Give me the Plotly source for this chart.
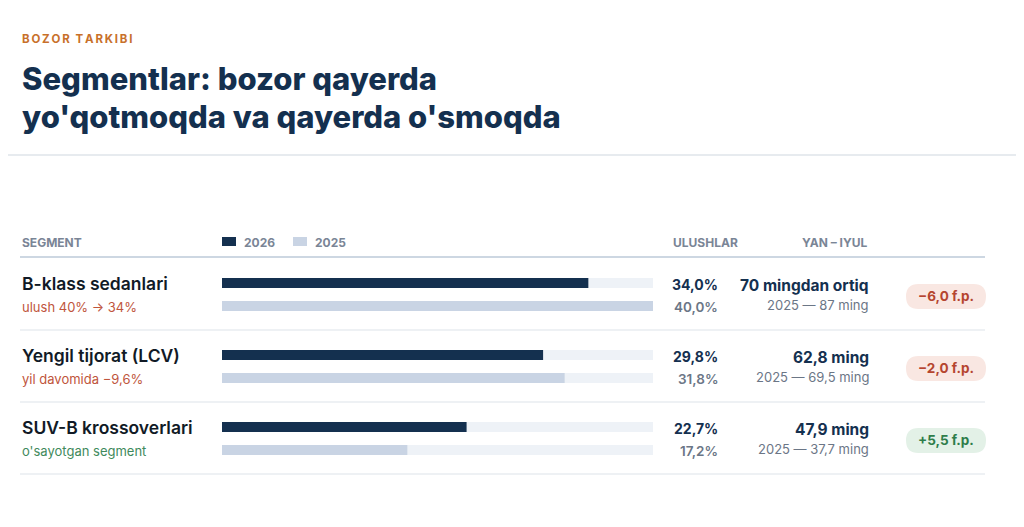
import plotly.graph_objects as go

segments = ["B-klass sedanlari", "Yengil tijorat (LCV)", "SUV-B krossoverlari"]
notes = ["ulush 40% → 34%", "yil davomida −9,6%", "o'sayotgan segment"]
share_2026 = [34.0, 29.8, 22.7]
share_2025 = [40.0, 31.8, 17.2]
vol_2026 = ["70 mingdan ortiq", "62,8 ming", "47,9 ming"]
vol_2025 = ["2025 — 87 ming", "2025 — 69,5 ming", "2025 — 37,7 ming"]
delta = ["−6,0 f.p.", "−2,0 f.p.", "+5,5 f.p."]
SCALE_MAX = 40

W, H = 1024, 527
OFF = 8  # page body margin
NAVY = "#14304f"
LIGHT = "#c9d4e4"
TRACK = "#eef2f7"
RED = "#c0553c"
GREEN = "#3f8a5c"
GREY = "#6b7686"

def px(x): return (x - OFF) / W
def py(y): return 1 - (y - OFF) / H

ROW0, STEP = 283, 72
y26 = [ROW0 + STEP * i for i in range(3)]
y25 = [y + 23 for y in y26]

fig = go.Figure()
for ys in (y26, y25):
    fig.add_trace(go.Bar(x=[SCALE_MAX] * 3, y=[y - OFF for y in ys], orientation="h", width=10,
                         marker=dict(color=TRACK, line_width=0), hoverinfo="skip"))
fig.add_trace(go.Bar(x=share_2026, y=[y - OFF for y in y26], orientation="h", width=10,
                     marker=dict(color=NAVY, line_width=0), hoverinfo="skip"))
fig.add_trace(go.Bar(x=share_2025, y=[y - OFF for y in y25], orientation="h", width=10,
                     marker=dict(color=LIGHT, line_width=0), hoverinfo="skip"))

ann = []
def T(x, y, text, size, color, bold=False, anchor="left", font="Inter", weight=None):
    ann.append(dict(x=px(x), y=py(y), xref="paper", yref="paper", text=text,
                    showarrow=False, xanchor=anchor, yanchor="middle",
                    font=dict(size=size, color=color, family=font,
                              weight=weight if weight else (700 if bold else 400))))

T(20, 39, "B\u2009O\u2009Z\u2009O\u2009R\u2002T\u2009A\u2009R\u2009K\u2009I\u2009B\u2009I", 11.5, "#c8702a", weight=700)
T(20, 78, "Segmentlar: bozor qayerda", 31, NAVY, weight=800)
T(20, 116, "yo'qotmoqda va qayerda o'smoqda", 31, NAVY, weight=800)
T(20, 242, "SEGMENT", 12, "#7a8596", True)
T(740, 242, "ULUSHLAR", 12, "#7a8596", True, "right")
T(870, 242, "YAN – IYUL", 12, "#7a8596", True, "right")
T(242, 242, "2026", 12, "#7a8596", True)
T(313, 242, "2025", 12, "#7a8596", True)

shapes = [
    dict(type="line", xref="paper", yref="paper", x0=0, x1=1, y0=py(155), y1=py(155), line=dict(color="#dfe4ea", width=1.5)),
    dict(type="line", xref="paper", yref="paper", x0=px(20), x1=px(985), y0=py(257), y1=py(257), line=dict(color="#cdd7e2", width=2)),
    dict(type="rect", xref="paper", yref="paper", x0=px(222), x1=px(236), y0=py(237), y1=py(246), fillcolor=NAVY, line_width=0),
    dict(type="rect", xref="paper", yref="paper", x0=px(293), x1=px(307), y0=py(237), y1=py(246), fillcolor=LIGHT, line_width=0),
]
for i in range(3):
    yc = y26[i]
    T(20, yc, segments[i], 17.5, "#111a26", weight=600)
    T(20, yc + 24, notes[i], 13, GREEN if i == 2 else RED)
    T(720, yc + 1, f"{share_2026[i]:.1f}%".replace(".", ","), 14, NAVY, True, "right")
    T(720, yc + 24, f"{share_2025[i]:.1f}%".replace(".", ","), 13.5, GREY, weight=600, anchor="right")
    T(871, yc + 2, vol_2026[i], 15.5, NAVY, True, "right")
    T(871, yc + 22, vol_2025[i], 13, GREY, False, "right")
    pos = delta[i].startswith("+")
    r = 12.5
    xa, xb = 906, 986; ya, yb = yc + 1, yc + 26
    path = (f"M {px(xa+r)} {py(ya)} L {px(xb-r)} {py(ya)} Q {px(xb)} {py(ya)} {px(xb)} {py(ya+r)} "
            f"Q {px(xb)} {py(yb)} {px(xb-r)} {py(yb)} L {px(xa+r)} {py(yb)} Q {px(xa)} {py(yb)} {px(xa)} {py(yb-r)} "
            f"Q {px(xa)} {py(ya)} {px(xa+r)} {py(ya)} Z")
    shapes.append(dict(type="path", xref="paper", yref="paper", path=path,
                       fillcolor="#e3f1e7" if pos else "#f9e7e2", line_width=0, layer="below"))
    T(946, yc + 13, delta[i], 13.5, "#2e7d4a" if pos else "#b5452f", True, "center")
    shapes.append(dict(type="line", xref="paper", yref="paper", x0=px(20), x1=px(985),
                       y0=py(yc + 47), y1=py(yc + 47), line=dict(color="#e8ecf1", width=1.5)))

fig.update_layout(
    width=W, height=H, margin=dict(l=0, r=0, t=0, b=0),
    paper_bgcolor="white", plot_bgcolor="rgba(0,0,0,0)",
    barmode="overlay", showlegend=False,
    xaxis=dict(domain=[px(222), px(653)], range=[0, SCALE_MAX], visible=False, fixedrange=True),
    yaxis=dict(range=[H, 0], visible=False, fixedrange=True),
    annotations=ann, shapes=shapes,
)
fig.write_html("out.html")
